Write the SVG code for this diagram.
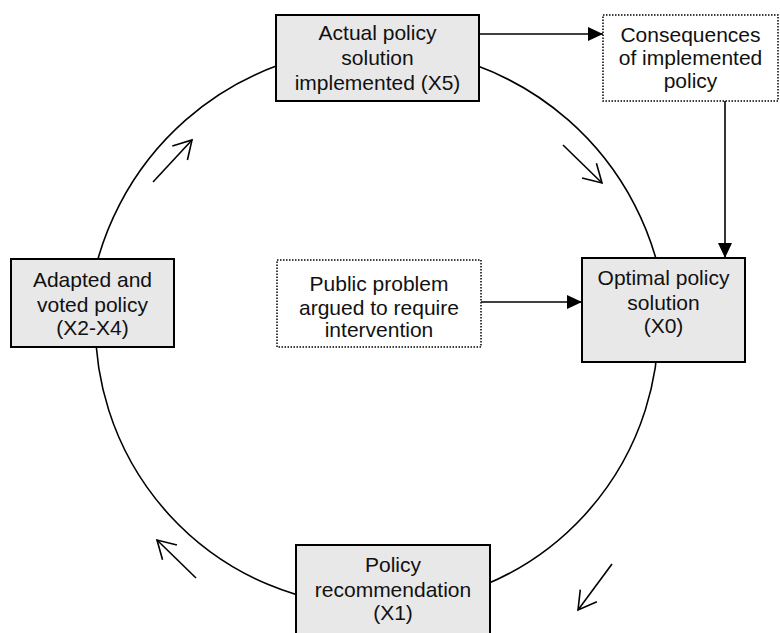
<svg xmlns="http://www.w3.org/2000/svg" width="780" height="633" viewBox="0 0 780 633">
<style>
  .box { fill: #e8e8e8; stroke: #000; stroke-width: 2; }
  .dot { fill: #fff; stroke: #000; stroke-width: 1.5; stroke-dasharray: 1.5 1.5; }
  .lbl { font-family: "Liberation Sans", Arial, sans-serif; font-size: 21px; fill: #111; text-anchor: middle; }
  .ring { fill: none; stroke: #000; stroke-width: 1.6; }
  .cue { fill: none; stroke: #000; stroke-width: 1.6; marker-end: url(#open); }
  .link { fill: none; stroke: #000; stroke-width: 1.6; marker-end: url(#solid); }
</style>
<defs>
  <marker id="open" markerUnits="userSpaceOnUse" markerWidth="30" markerHeight="30" viewBox="-22 -15 30 30" refX="0" refY="0" orient="auto" overflow="visible">
    <path d="M -17.8,-10.3 L 0,0 L -17.8,10.3" fill="none" stroke="#000" stroke-width="1.6"/>
  </marker>
  <marker id="solid" markerUnits="userSpaceOnUse" markerWidth="20" markerHeight="20" viewBox="-16 -10 20 20" refX="0" refY="0" orient="auto" overflow="visible">
    <path d="M -15,-7 L 0,0 L -15,7 Z" fill="#000"/>
  </marker>
</defs>
<rect width="780" height="633" fill="#fff"/>
<g id="connectors">
  <path class="ring" d="M 89.5,300 A 290 290 0 0 1 664.5,300"/>
  <path class="ring" d="M 657.4,300 A 281.5 281.5 0 1 1 96.6,300"/>
  <path class="cue" d="M 153,182 L 192,140"/>
  <path class="cue" d="M 563,145 L 602,183"/>
  <path class="cue" d="M 612,564 L 578,610"/>
  <path class="cue" d="M 196,578 L 157,540"/>
  <path class="link" d="M 479,34 L 603,34"/>
  <path class="link" d="M 725,101 L 725,258"/>
  <path class="link" d="M 481,302 L 582,302"/>
</g>
<g id="n-x5">
  <rect class="box" x="276" y="15" width="203" height="86"/>
  <text class="lbl" x="377.5" y="40">Actual policy</text>
  <text class="lbl" x="377.5" y="65">solution</text>
  <text class="lbl" x="377.5" y="90">implemented (X5)</text>
</g>
<g id="n-consequences">
  <rect class="dot" x="603" y="15" width="175" height="86"/>
  <text class="lbl" x="690.5" y="42">Consequences</text>
  <text class="lbl" x="690.5" y="65">of implemented</text>
  <text class="lbl" x="690.5" y="88">policy</text>
</g>
<g id="n-x0">
  <rect class="box" x="582" y="258" width="163" height="104"/>
  <text class="lbl" x="663.5" y="285">Optimal policy</text>
  <text class="lbl" x="663.5" y="310">solution</text>
  <text class="lbl" x="663.5" y="333">(X0)</text>
</g>
<g id="n-problem">
  <rect class="dot" x="277" y="260" width="204" height="87"/>
  <text class="lbl" x="379" y="291">Public problem</text>
  <text class="lbl" x="379" y="315">argued to require</text>
  <text class="lbl" x="379" y="337">intervention</text>
</g>
<g id="n-x2x4">
  <rect class="box" x="11" y="259" width="163" height="88"/>
  <text class="lbl" x="92.5" y="287">Adapted and</text>
  <text class="lbl" x="92.5" y="312">voted policy</text>
  <text class="lbl" x="92.5" y="335">(X2-X4)</text>
</g>
<g id="n-x1">
  <rect class="box" x="296" y="545" width="194" height="100"/>
  <text class="lbl" x="393" y="572">Policy</text>
  <text class="lbl" x="393" y="597">recommendation</text>
  <text class="lbl" x="393" y="620">(X1)</text>
</g>
</svg>
